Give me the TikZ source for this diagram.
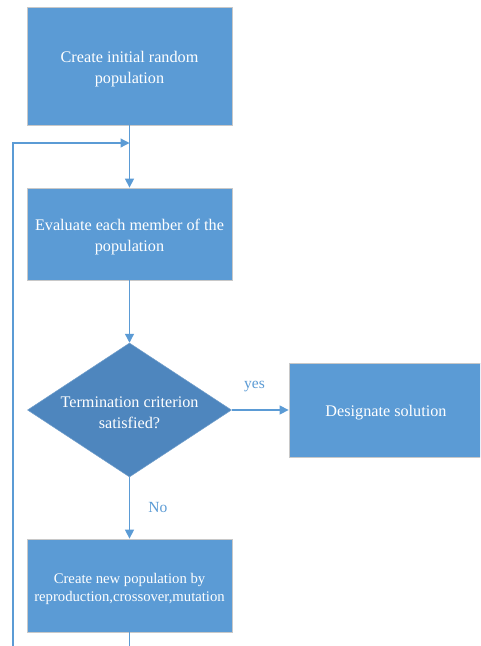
\documentclass[tikz,border=0pt]{standalone}
\usepackage{fontspec}
\setmainfont{Liberation Serif}
\usetikzlibrary{shapes.geometric,arrows.meta}
\definecolor{boxblue}{HTML}{5B9BD5}
\definecolor{diablue}{HTML}{4E86BE}
\definecolor{edgegray}{HTML}{C8C8C8}
\tikzset{
  procbox/.style={draw=edgegray, line width=0.8pt, fill=boxblue, inner sep=0pt},
  boxtext/.style={text=white, align=center, inner sep=0pt, yshift=-3pt},
  conn/.style={draw=boxblue, line width=1.3pt, -{Triangle[length=9pt,width=9pt]}},
  plainline/.style={draw=boxblue, line width=1.3pt},
  lbl/.style={text=boxblue, font=\fontsize{15.5}{18}\selectfont},
  bigtxt/.style={font=\fontsize{16.2}{21}\selectfont},
}
\begin{document}
\begin{tikzpicture}[x=1pt,y=-1pt]
\useasboundingbox (0,0) rectangle (480,646);
\fill[white] (0,0) rectangle (480,646);
\clip (0,0) rectangle (480,646);

\node[procbox, minimum width=205pt, minimum height=118pt] (b1) at (129.5,66) {};
\node[boxtext, bigtxt] (b1t) at (b1.center) {Create initial random\\population};
\node[procbox, minimum width=205pt, minimum height=92pt] (b2) at (129.5,234) {};
\node[boxtext, bigtxt] (b2t) at (b2.center) {Evaluate each member of the\\population};
\node[diamond, fill=diablue, draw=diablue!80!white, line width=0.5pt, minimum width=204pt, minimum height=134pt, inner sep=0pt] (d) at (129.5,410) {};
\node[boxtext, bigtxt] (dt) at (d.center) {Termination criterion\\satisfied?};
\node[procbox, minimum width=194pt, minimum height=94pt] (ds) at (386,410) {};
\node[boxtext, bigtxt] (dst) at (ds.center) {Designate solution};
\node[procbox, minimum width=205pt, minimum height=93pt] (b4) at (129.5,585.5) {};
\node[boxtext, font=\fontsize{14.7}{18}\selectfont] (b4t) at (b4.center) {Create new population by\\reproduction,crossover,mutation};

\coordinate (loopin) at (129.5,143);
\coordinate (bl) at (13,660);
\coordinate (br) at (129.5,660);

\draw[conn] (b1.south) -- (b2.north);
\draw[conn] (b2.south) -- (d.north);
\draw[conn] (d.east) -- node[lbl, above=14pt, pos=0.4] {yes} (ds.west);
\draw[conn] (d.south) -- node[lbl, right=15pt, pos=0.5] {No} (b4.north);
\draw[plainline] (b4.south) -- (br);
\draw[conn] (bl) |- (loopin);
\end{tikzpicture}
\end{document}
